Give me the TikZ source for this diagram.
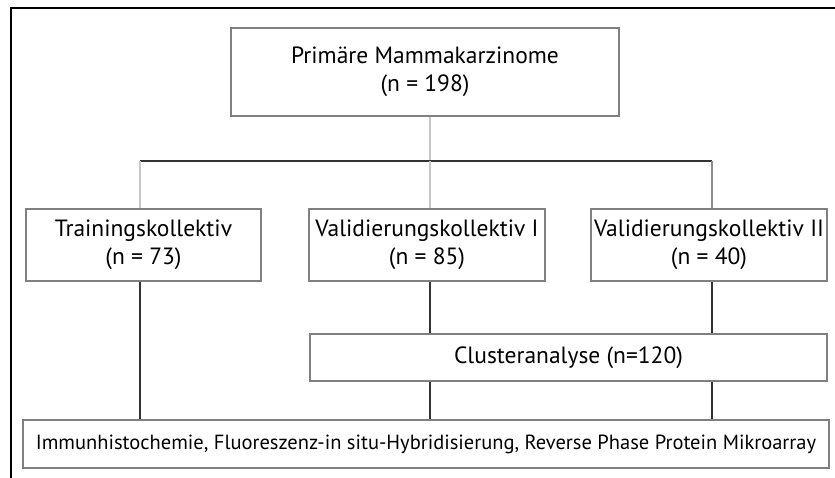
\documentclass[tikz,border=0pt]{standalone}
\usepackage{fontspec}
\setmainfont{PT Sans}
\usetikzlibrary{positioning}
\tikzset{
	boxnode/.style={rectangle, draw=black!50, line width=1.2pt, align=center, inner sep=0pt, font=\fontsize{23.5}{28}\selectfont},
	widenode/.style={rectangle, draw=black!50, line width=1.2pt, inner sep=0pt, font=\fontsize{20.5}{24}\selectfont},
	darkline/.style={draw=black!80, line width=1.3pt},
	paleline/.style={draw=black!22, line width=1.5pt}
}

\begin{document}
\begin{tikzpicture}[x=1pt, y=-1pt]
		\useasboundingbox[fill=white] (0,0) rectangle (835,478);
		\draw[line width=2pt] (11,478) -- (11,8) -- (835,8);

		\node[boxnode, minimum width=388pt, minimum height=88pt] at (425,72) (prim) {Primäre Mammakarzinome\\(n = 198)};
		\node[boxnode, minimum width=235pt, minimum height=72pt] at (143.5,245) (train) {Trainingskollektiv\\(n = 73)};
		\node[boxnode, minimum width=236pt, minimum height=72pt] at (427,245) (val1) {Validierungskollektiv I\\(n = 85)};
		\node[boxnode, minimum width=236pt, minimum height=72pt] at (709,245) (val2) {Validierungskollektiv II\\(n = 40)};
		\node[boxnode, minimum width=517pt, minimum height=47pt] at (568.5,357.5) (clus) {Clusteranalyse (n=120)};
		\node[widenode, minimum width=806pt, minimum height=48pt] at (426,444) (methods) {Immunhistochemie, Fluoreszenz-in situ-Hybridisierung, Reverse Phase Protein Mikroarray};

		\coordinate (barL) at (140,161);
		\coordinate (barM) at (430,161);
		\coordinate (barR) at (712,161);

        \draw[paleline] (prim.south -| barM) -- (barM);
        \draw[darkline] (barL) -- (barR);
        \draw[paleline] (barL) -- (barL |- train.north);
        \draw[paleline] (barM) -- (barM |- val1.north);
        \draw[paleline, draw=black!45] (barR) -- (barR |- val2.north);

        \draw[darkline] (barL |- train.south) -- (barL |- methods.north);
        \draw[darkline] (barM |- val1.south) -- (barM |- clus.north);
        \draw[darkline] (barR |- val2.south) -- (barR |- clus.north);
        \draw[darkline] (barM |- clus.south) -- (barM |- methods.north);
        \draw[darkline] (barR |- clus.south) -- (barR |- methods.north);
	\end{tikzpicture}
\end{document}
